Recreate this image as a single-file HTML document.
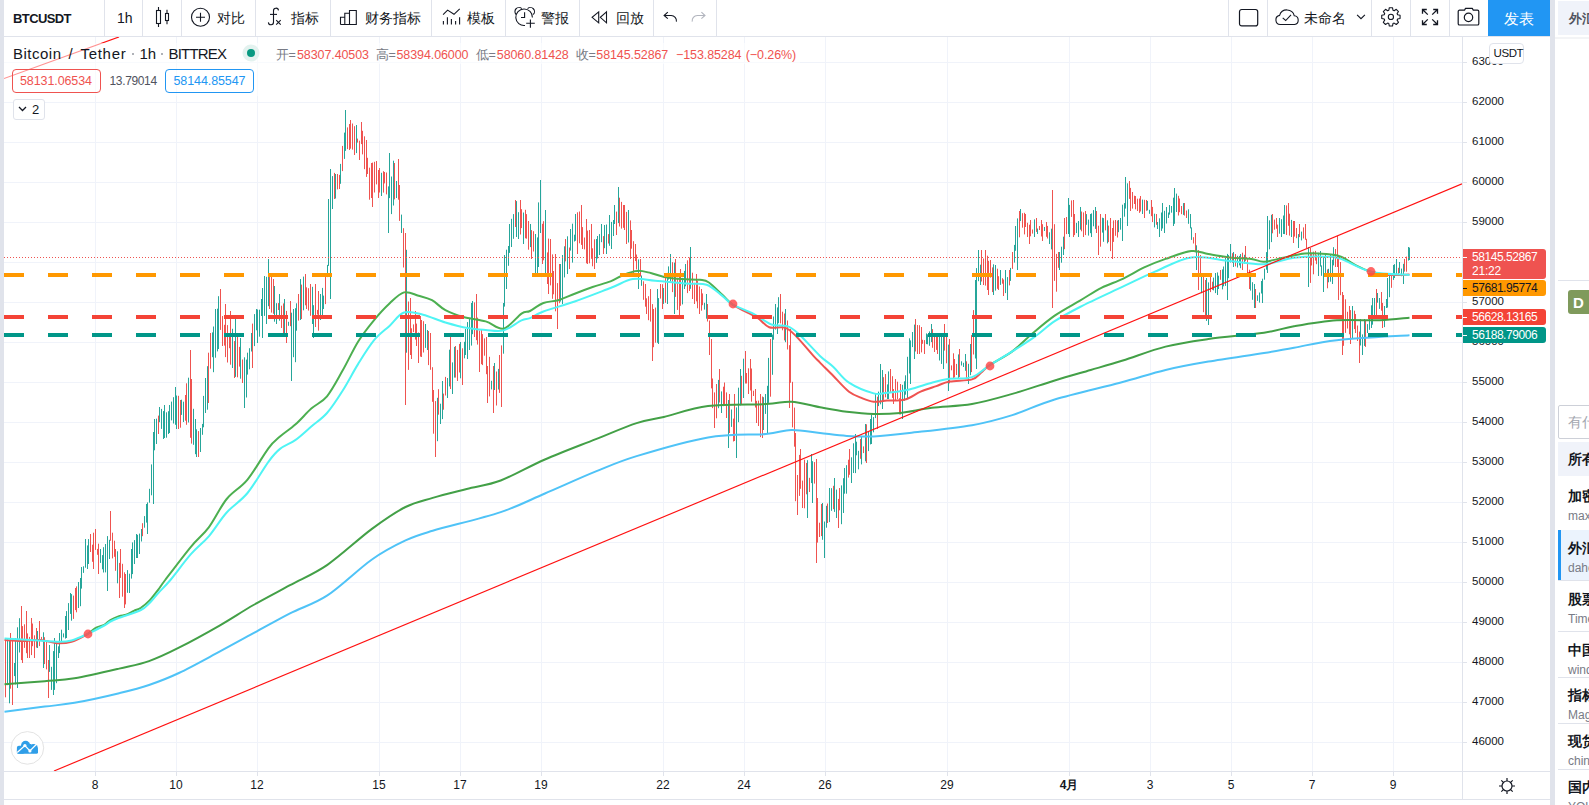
<!DOCTYPE html>
<html><head><meta charset="utf-8"><title>BTCUSDT</title>
<style>
*{margin:0;padding:0;box-sizing:border-box}
html,body{width:1589px;height:805px;overflow:hidden;background:#fff;font-family:"Liberation Sans",sans-serif;color:#131722}
.abs{position:absolute}
.t{white-space:nowrap}
</style></head><body>
<svg class="abs" style="left:0;top:0" width="1589" height="805" shape-rendering="auto"><defs><clipPath id="chartclip"><rect x="4" y="37" width="1458" height="734"/></clipPath></defs><g clip-path="url(#chartclip)"><rect x="4" y="62" width="1458" height="1" fill="#f0f3fa"/><rect x="4" y="102" width="1458" height="1" fill="#f0f3fa"/><rect x="4" y="142" width="1458" height="1" fill="#f0f3fa"/><rect x="4" y="182" width="1458" height="1" fill="#f0f3fa"/><rect x="4" y="222" width="1458" height="1" fill="#f0f3fa"/><rect x="4" y="262" width="1458" height="1" fill="#f0f3fa"/><rect x="4" y="302" width="1458" height="1" fill="#f0f3fa"/><rect x="4" y="342" width="1458" height="1" fill="#f0f3fa"/><rect x="4" y="382" width="1458" height="1" fill="#f0f3fa"/><rect x="4" y="422" width="1458" height="1" fill="#f0f3fa"/><rect x="4" y="462" width="1458" height="1" fill="#f0f3fa"/><rect x="4" y="502" width="1458" height="1" fill="#f0f3fa"/><rect x="4" y="542" width="1458" height="1" fill="#f0f3fa"/><rect x="4" y="582" width="1458" height="1" fill="#f0f3fa"/><rect x="4" y="622" width="1458" height="1" fill="#f0f3fa"/><rect x="4" y="662" width="1458" height="1" fill="#f0f3fa"/><rect x="4" y="702" width="1458" height="1" fill="#f0f3fa"/><rect x="4" y="742" width="1458" height="1" fill="#f0f3fa"/><rect x="95" y="37" width="1" height="734" fill="#f0f3fa"/><rect x="176" y="37" width="1" height="734" fill="#f0f3fa"/><rect x="257" y="37" width="1" height="734" fill="#f0f3fa"/><rect x="379" y="37" width="1" height="734" fill="#f0f3fa"/><rect x="460" y="37" width="1" height="734" fill="#f0f3fa"/><rect x="541" y="37" width="1" height="734" fill="#f0f3fa"/><rect x="663" y="37" width="1" height="734" fill="#f0f3fa"/><rect x="744" y="37" width="1" height="734" fill="#f0f3fa"/><rect x="825" y="37" width="1" height="734" fill="#f0f3fa"/><rect x="947" y="37" width="1" height="734" fill="#f0f3fa"/><rect x="1069" y="37" width="1" height="734" fill="#f0f3fa"/><rect x="1150" y="37" width="1" height="734" fill="#f0f3fa"/><rect x="1231" y="37" width="1" height="734" fill="#f0f3fa"/><rect x="1312" y="37" width="1" height="734" fill="#f0f3fa"/><rect x="1393" y="37" width="1" height="734" fill="#f0f3fa"/><path d="M7.5,638.4V685.2M9.5,640.3V703.3M14.5,663.0V676.1M15.5,638.0V684.4M17.5,627.3V688.0M19.5,618.2V652.5M37.5,631.0V648.0M43.5,632.3V668.0M49.5,645.0V671.9M51.5,666.8V689.9M53.5,651.1V695.0M54.5,638.0V689.9M56.5,641.1V683.2M58.5,646.3V658.0M59.5,633.0V653.1M61.5,629.7V642.4M63.5,633.4V637.4M65.5,616.0V638.6M66.5,611.1V638.0M68.5,603.1V630.0M70.5,593.0V613.9M71.5,594.1V620.7M78.5,582.0V608.0M80.5,578.0V606.2M81.5,567.0V588.6M83.5,566.3V572.9M85.5,539.0V567.7M87.5,545.4V569.0M88.5,539.1V564.0M100.5,549.0V562.9M102.5,555.1V569.3M103.5,547.2V572.5M105.5,544.0V572.4M107.5,536.1V591.0M109.5,539.8V559.0M117.5,551.3V583.3M127.5,570.1V592.8M129.5,573.7V593.0M131.5,549.0V578.6M132.5,542.4V574.1M134.5,540.1V564.0M136.5,534.0V558.0M137.5,534.8V558.0M139.5,533.6V554.0M141.5,529.0V541.5M144.5,516.1V527.7M146.5,504.0V522.6M147.5,502.4V534.0M149.5,488.8V502.7M151.5,464.4V495.3M153.5,432.0V504.0M154.5,419.0V450.3M156.5,418.7V444.0M159.5,407.0V422.2M161.5,408.9V428.9M163.5,411.1V439.0M164.5,405.0V438.0M166.5,412.3V437.7M168.5,411.2V434.0M169.5,405.0V433.0M171.5,401.6V420.4M173.5,397.2V423.5M175.5,387.0V424.8M176.5,395.5V429.0M181.5,399.7V414.9M183.5,401.7V422.0M188.5,377.7V422.5M193.5,408.8V444.8M195.5,419.0V454.2M196.5,429.3V457.0M200.5,428.0V452.0M202.5,423.9V434.8M203.5,395.9V427.3M205.5,378.0V413.0M207.5,366.2V409.7M212.5,332.4V357.2M213.5,326.5V372.2M215.5,309.0V357.7M217.5,308.7V351.4M218.5,296.2V349.0M232.5,328.8V368.0M235.5,319.0V376.9M240.5,338.0V378.7M244.5,357.3V408.0M246.5,359.6V397.5M247.5,352.7V374.6M249.5,348.2V369.3M251.5,333.0V351.5M254.5,314.1V346.1M256.5,309.0V330.3M257.5,309.5V343.0M259.5,309.7V336.7M261.5,299.0V316.0M262.5,288.0V338.0M264.5,276.0V315.9M266.5,276.8V324.0M268.5,259.0V306.2M274.5,286.0V321.7M276.5,303.2V324.0M279.5,294.0V320.7M284.5,299.0V336.0M288.5,321.8V325.8M291.5,312.7V381.0M293.5,309.0V357.2M295.5,308.2V362.2M296.5,303.3V330.7M300.5,279.0V320.0M303.5,276.6V310.3M312.5,286.8V324.0M313.5,305.2V338.0M320.5,294.0V320.0M322.5,287.9V315.0M323.5,295.6V309.0M327.5,264.9V277.1M328.5,199.0V265.9M330.5,169.0V299.0M332.5,176.1V209.0M335.5,174.0V198.5M340.5,163.9V183.8M344.5,132.6V158.9M345.5,110.0V150.9M356.5,125.0V153.1M381.5,172.8V196.0M388.5,186.4V233.0M389.5,153.0V198.1M391.5,176.5V214.1M393.5,160.7V205.5M396.5,181.0V198.0M401.5,214.6V233.0M406.5,249.8V352.7M425.5,324.0V347.9M427.5,330.0V350.0M437.5,397.8V441.2M440.5,403.7V424.0M442.5,381.0V419.1M447.5,378.0V398.0M449.5,349.7V386.4M452.5,362.4V394.0M454.5,346.9V377.6M460.5,342.0V378.3M464.5,341.8V358.3M465.5,329.0V355.0M467.5,322.1V359.0M469.5,318.8V350.0M471.5,303.0V345.6M472.5,301.0V334.2M491.5,380.8V389.4M494.5,363.0V390.0M498.5,368.9V389.5M503.5,303.0V353.7M504.5,255.0V306.6M506.5,249.7V289.0M508.5,246.0V265.8M509.5,224.0V252.9M511.5,218.8V247.0M513.5,214.1V238.8M516.5,201.1V237.0M518.5,212.2V239.0M523.5,212.5V244.0M530.5,224.0V247.1M535.5,234.0V273.4M537.5,237.4V274.0M538.5,202.4V267.0M540.5,180.0V233.0M545.5,210.0V274.1M560.5,264.0V301.6M562.5,255.0V304.0M564.5,246.3V277.4M567.5,236.3V274.0M570.5,229.0V250.6M572.5,223.7V262.6M574.5,234.7V241.5M575.5,214.0V240.8M596.5,239.0V262.9M597.5,236.0V258.5M599.5,234.1V255.0M601.5,224.0V242.2M604.5,225.0V248.2M606.5,224.5V254.0M609.5,215.0V245.8M611.5,221.9V249.0M613.5,220.0V236.0M614.5,205.0V224.0M618.5,187.0V223.1M628.5,210.0V242.5M638.5,259.4V289.0M641.5,275.5V285.8M657.5,289.0V342.8M658.5,298.1V344.0M663.5,288.0V303.9M667.5,272.9V304.0M668.5,266.4V279.6M670.5,254.0V281.5M674.5,262.6V314.0M682.5,277.9V304.4M684.5,270.9V289.0M685.5,264.0V286.3M690.5,247.0V288.8M704.5,302.8V309.6M706.5,294.0V318.7M718.5,379.9V408.2M721.5,391.4V413.0M728.5,400.0V448.0M731.5,409.5V426.9M736.5,407.4V458.0M738.5,387.7V422.2M740.5,369.0V405.4M743.5,358.7V398.0M763.5,397.2V430.0M765.5,394.0V413.9M767.5,385.8V433.0M768.5,357.9V402.9M772.5,334.6V374.8M773.5,316.5V339.7M775.5,304.0V329.6M777.5,307.4V334.0M778.5,297.2V323.2M785.5,309.0V342.2M807.5,460.2V518.0M811.5,454.0V483.1M812.5,461.2V503.0M822.5,503.0V539.8M824.5,521.5V558.0M826.5,505.8V527.7M829.5,488.0V522.1M831.5,488.2V510.8M834.5,478.0V511.9M836.5,489.6V518.0M841.5,485.4V524.2M843.5,478.2V513.0M844.5,468.0V493.7M846.5,465.2V493.7M851.5,457.3V483.0M853.5,443.3V473.0M855.5,434.0V473.1M856.5,441.7V455.3M858.5,450.8V469.3M861.5,435.9V464.4M865.5,424.0V461.3M868.5,431.2V451.1M870.5,419.0V444.4M871.5,414.7V444.0M873.5,417.1V432.3M875.5,394.0V418.1M878.5,391.6V406.1M880.5,364.0V404.3M882.5,370.0V409.0M887.5,384.4V399.0M888.5,371.4V399.0M902.5,384.8V419.0M904.5,381.3V400.8M905.5,375.3V394.7M907.5,356.8V399.0M909.5,338.3V373.5M910.5,340.4V384.0M912.5,332.0V347.1M914.5,324.6V359.0M926.5,333.4V344.1M927.5,334.3V344.3M929.5,331.4V345.8M931.5,324.0V342.1M939.5,334.6V360.5M941.5,334.0V363.9M943.5,333.3V369.0M948.5,344.6V391.0M958.5,354.4V379.0M961.5,361.3V365.5M963.5,362.8V367.0M965.5,354.0V370.8M968.5,363.8V384.0M970.5,344.0V375.2M975.5,280.0V358.5M976.5,268.1V369.0M978.5,250.0V281.2M980.5,264.7V285.0M993.5,264.3V295.0M995.5,265.0V290.6M1000.5,270.0V284.9M1005.5,270.0V293.1M1007.5,277.1V300.0M1010.5,267.9V280.9M1014.5,244.9V262.6M1015.5,226.0V250.8M1017.5,218.4V270.0M1020.5,209.0V221.1M1034.5,219.4V237.0M1037.5,228.5V234.0M1044.5,227.0V231.0M1049.5,232.3V244.0M1051.5,228.7V249.4M1059.5,252.0V270.0M1061.5,246.7V262.7M1063.5,236.7V255.0M1068.5,198.0V234.0M1069.5,204.9V237.0M1076.5,222.9V233.1M1078.5,221.0V237.0M1080.5,207.0V229.7M1086.5,214.1V224.8M1088.5,219.6V235.6M1090.5,214.0V233.2M1091.5,213.4V237.0M1093.5,210.1V226.3M1095.5,207.0V228.9M1102.5,217.7V232.6M1103.5,218.1V241.8M1107.5,220.3V243.4M1118.5,220.0V232.2M1120.5,218.0V229.7M1122.5,204.7V241.0M1124.5,203.1V216.7M1125.5,177.0V208.6M1127.5,183.3V226.0M1142.5,199.6V214.0M1147.5,200.9V210.4M1149.5,209.8V213.8M1154.5,213.7V227.4M1157.5,222.0V229.0M1159.5,218.3V237.0M1161.5,212.5V230.9M1162.5,203.0V228.5M1164.5,210.8V233.0M1166.5,207.0V223.5M1168.5,212.5V218.0M1169.5,205.0V214.6M1171.5,206.0V212.7M1173.5,197.7V226.0M1174.5,188.0V223.8M1176.5,193.6V212.0M1183.5,203.1V214.9M1188.5,209.3V223.8M1190.5,214.0V228.4M1191.5,227.4V239.9M1196.5,245.3V270.0M1201.5,275.2V293.2M1206.5,278.0V320.9M1208.5,282.4V325.0M1213.5,277.6V290.4M1215.5,273.0V293.1M1217.5,272.4V295.0M1218.5,275.7V289.0M1222.5,269.4V289.4M1223.5,266.5V286.3M1225.5,257.0V285.9M1227.5,253.9V300.0M1228.5,255.1V278.2M1230.5,244.0V262.5M1233.5,252.0V267.0M1237.5,255.8V267.5M1239.5,255.9V265.4M1240.5,254.0V268.2M1244.5,254.8V263.6M1250.5,276.0V290.6M1252.5,282.2V299.8M1254.5,284.0V308.0M1257.5,295.3V300.9M1259.5,292.5V302.6M1261.5,281.0V293.5M1262.5,278.7V303.0M1264.5,268.7V279.7M1266.5,252.1V269.7M1267.5,216.0V273.0M1269.5,220.3V249.3M1271.5,214.8V242.1M1279.5,218.0V233.7M1281.5,219.2V237.0M1283.5,215.5V234.0M1284.5,205.0V234.1M1291.5,219.9V237.0M1298.5,234.1V248.0M1301.5,231.6V240.4M1308.5,247.0V287.0M1318.5,252.8V276.0M1320.5,251.0V266.6M1321.5,265.4V275.8M1323.5,256.7V292.0M1325.5,254.0V276.9M1328.5,268.8V282.3M1330.5,254.0V281.7M1332.5,259.8V284.0M1333.5,247.2V265.4M1352.5,306.0V338.0M1360.5,319.0V345.5M1362.5,334.4V355.0M1364.5,319.0V345.9M1367.5,324.1V333.0M1369.5,317.0V329.8M1371.5,305.3V328.0M1372.5,298.0V324.7M1374.5,298.0V317.4M1377.5,293.0V302.7M1379.5,298.0V308.9M1384.5,306.0V327.1M1386.5,299.0V308.0M1387.5,278.0V307.6M1389.5,275.4V297.2M1393.5,265.0V279.9M1394.5,264.2V278.0M1396.5,259.0V275.0M1399.5,262.0V273.0M1401.5,268.6V276.2M1403.5,263.8V284.0M1408.5,247.0V260.6M1409.5,247.6V260.0" stroke="#26a69a" stroke-width="1" fill="none"/><path d="M5.5,638.0V697.3M10.5,633.0V688.7M12.5,639.0V705.0M21.5,606.0V660.1M22.5,626.1V663.0M24.5,624.3V647.9M26.5,611.0V653.2M27.5,633.4V658.0M29.5,636.9V658.0M31.5,618.0V655.1M32.5,623.5V646.2M34.5,635.3V658.0M36.5,628.0V647.6M39.5,621.0V646.1M41.5,636.9V640.9M44.5,637.2V664.1M46.5,641.5V669.4M48.5,660.0V698.0M73.5,595.6V618.9M75.5,588.0V610.1M76.5,586.4V612.3M90.5,534.0V552.0M92.5,544.7V561.8M93.5,532.7V569.0M95.5,529.0V549.9M97.5,548.9V554.8M98.5,543.7V574.0M110.5,511.0V540.8M112.5,532.7V558.4M114.5,540.7V556.8M115.5,549.0V570.8M119.5,562.9V598.0M120.5,549.0V577.9M122.5,563.8V596.7M124.5,572.3V608.0M125.5,574.0V604.4M142.5,523.2V536.2M158.5,415.6V434.0M178.5,395.8V429.0M180.5,400.0V427.7M185.5,395.0V420.7M186.5,383.3V424.8M190.5,350.0V437.8M191.5,379.0V443.6M198.5,431.1V457.0M208.5,352.7V403.0M210.5,333.0V368.7M220.5,289.0V329.9M222.5,316.0V346.0M224.5,324.8V345.6M225.5,304.0V357.1M227.5,325.1V362.5M229.5,334.5V348.2M230.5,311.0V364.7M234.5,341.1V378.0M237.5,336.6V377.3M239.5,346.9V366.6M242.5,359.5V383.0M252.5,323.6V368.0M269.5,273.3V309.0M271.5,274.2V312.6M273.5,279.0V313.8M278.5,303.1V310.0M281.5,305.7V328.0M283.5,303.4V334.1M286.5,310.9V343.0M290.5,301.0V326.2M298.5,294.0V320.6M301.5,284.6V319.0M305.5,274.0V305.3M306.5,287.3V309.0M308.5,288.2V310.6M310.5,284.0V315.8M315.5,284.0V327.0M317.5,309.9V314.6M318.5,291.0V330.7M325.5,276.0V304.1M334.5,172.9V199.0M337.5,174.0V189.4M339.5,174.9V189.0M342.5,145.9V171.1M347.5,127.4V149.1M349.5,124.0V150.0M350.5,120.0V148.7M352.5,123.5V149.6M354.5,126.2V155.0M357.5,138.6V142.6M359.5,140.7V160.0M361.5,122.0V144.1M362.5,130.8V154.4M364.5,136.3V169.2M366.5,140.0V176.9M367.5,157.8V174.0M369.5,167.7V199.7M371.5,163.0V198.0M372.5,162.6V207.0M374.5,161.8V192.5M376.5,161.0V184.4M378.5,170.0V198.0M379.5,168.0V192.5M383.5,171.2V192.6M384.5,172.0V183.4M386.5,172.5V194.4M394.5,163.0V199.4M398.5,159.0V199.7M399.5,185.0V220.9M403.5,228.2V267.5M405.5,233.0V405.0M408.5,301.5V369.9M410.5,298.0V355.0M411.5,328.3V359.0M413.5,324.4V332.1M415.5,311.0V339.6M416.5,323.6V346.0M418.5,332.5V363.0M420.5,316.0V356.6M421.5,320.0V357.0M423.5,321.2V352.5M428.5,331.0V365.1M430.5,333.0V369.8M432.5,367.2V401.8M433.5,390.0V433.7M435.5,401.1V457.0M438.5,389.2V414.7M443.5,393.6V409.7M445.5,376.9V395.5M450.5,337.0V389.0M455.5,346.0V377.6M457.5,349.9V381.0M459.5,343.9V372.5M462.5,348.3V385.0M474.5,302.4V337.0M476.5,294.0V340.2M477.5,317.6V344.6M479.5,330.5V372.0M481.5,329.0V364.2M482.5,334.1V365.1M484.5,338.4V355.7M486.5,337.0V374.2M487.5,366.0V403.0M489.5,356.8V396.4M493.5,366.0V413.0M496.5,371.5V405.5M499.5,355.0V392.9M501.5,345.4V407.0M515.5,200.0V227.0M520.5,200.0V234.5M521.5,209.2V228.1M525.5,209.8V238.3M526.5,214.1V238.7M528.5,221.0V249.7M531.5,230.1V259.0M533.5,231.2V251.5M542.5,223.8V264.0M543.5,221.2V260.3M547.5,252.4V284.0M548.5,238.6V294.0M550.5,239.0V285.4M552.5,254.4V298.8M553.5,271.0V294.3M555.5,254.0V311.3M557.5,283.1V329.0M559.5,264.0V303.2M565.5,239.0V261.4M569.5,247.5V269.0M577.5,212.3V254.0M579.5,211.5V243.3M581.5,205.0V244.9M582.5,227.1V249.0M584.5,237.5V249.4M586.5,219.0V263.3M587.5,230.6V264.0M589.5,230.0V263.3M591.5,224.0V258.8M592.5,248.3V266.3M594.5,239.3V269.0M603.5,236.1V254.0M608.5,234.1V243.5M616.5,211.6V235.0M619.5,197.7V226.5M621.5,201.9V228.6M623.5,205.0V227.8M624.5,205.0V230.0M626.5,211.9V244.0M630.5,220.4V259.0M631.5,230.0V248.7M633.5,241.2V274.0M635.5,244.0V261.1M636.5,254.5V269.4M640.5,259.0V276.5M643.5,281.3V299.8M645.5,284.0V306.7M646.5,298.3V314.0M648.5,296.2V320.2M650.5,289.0V321.6M652.5,304.1V361.0M653.5,309.0V347.2M655.5,307.6V342.7M660.5,284.0V298.6M662.5,284.2V309.0M665.5,274.0V302.8M672.5,262.2V292.1M675.5,259.0V296.9M677.5,277.8V309.9M679.5,275.3V319.0M680.5,269.0V305.8M687.5,260.3V293.1M689.5,257.5V291.0M692.5,272.7V299.0M694.5,282.8V304.0M696.5,274.0V301.4M697.5,280.9V308.3M699.5,286.5V314.0M701.5,289.0V310.7M702.5,293.4V305.2M707.5,304.0V321.5M709.5,320.5V355.0M711.5,339.0V388.4M712.5,378.5V408.1M714.5,392.4V428.0M716.5,384.0V418.3M719.5,369.0V402.5M723.5,386.7V406.2M724.5,382.5V404.6M726.5,392.4V418.0M729.5,394.0V433.0M733.5,418.6V441.5M734.5,394.0V441.0M741.5,375.8V404.5M745.5,351.0V383.5M746.5,373.0V383.5M748.5,368.3V394.0M750.5,359.0V390.5M751.5,368.5V401.7M753.5,390.7V396.0M755.5,389.0V407.5M756.5,400.8V423.0M758.5,400.6V426.0M760.5,394.0V437.1M762.5,396.5V438.0M770.5,339.0V396.7M780.5,294.0V323.4M782.5,311.7V330.3M784.5,313.5V340.4M787.5,320.5V349.5M789.5,345.2V408.0M790.5,329.0V382.8M792.5,381.8V427.4M794.5,407.6V446.7M795.5,433.0V501.2M797.5,475.0V515.0M799.5,454.9V495.9M800.5,449.0V488.8M802.5,480.6V508.0M804.5,459.7V508.3M806.5,463.0V494.3M809.5,477.8V492.0M814.5,462.1V483.6M816.5,459.0V563.0M817.5,498.0V542.6M819.5,522.7V537.0M821.5,504.0V536.1M827.5,503.5V523.0M833.5,485.8V509.2M838.5,498.9V528.0M839.5,488.0V510.3M848.5,459.7V477.6M849.5,449.0V474.8M860.5,439.0V458.8M863.5,446.4V453.1M866.5,424.3V463.0M877.5,396.7V429.0M883.5,377.2V399.9M885.5,374.0V397.4M890.5,369.0V391.9M892.5,376.2V397.9M893.5,389.1V404.0M895.5,379.0V400.8M897.5,381.7V399.1M899.5,398.2V414.4M900.5,384.0V414.5M915.5,319.0V351.5M917.5,325.0V354.0M919.5,325.2V354.0M921.5,327.0V352.4M922.5,339.8V343.8M924.5,340.1V354.0M932.5,329.1V347.8M934.5,334.1V352.0M936.5,334.0V349.9M937.5,335.3V354.0M944.5,324.0V350.6M946.5,335.7V363.3M949.5,339.0V383.4M951.5,365.4V370.3M953.5,353.3V379.0M954.5,359.0V377.5M956.5,363.9V375.0M959.5,349.0V377.0M966.5,361.3V379.0M971.5,335.1V372.1M973.5,310.1V354.5M981.5,250.0V281.5M983.5,258.5V285.0M985.5,250.0V285.6M987.5,255.7V290.0M988.5,260.8V295.0M990.5,260.0V277.6M992.5,267.4V292.1M997.5,268.7V288.8M998.5,276.2V290.0M1002.5,278.2V283.7M1003.5,279.5V296.0M1009.5,270.0V285.4M1012.5,252.0V268.9M1019.5,211.0V237.3M1022.5,213.2V227.7M1024.5,212.8V234.4M1025.5,214.0V227.0M1027.5,222.8V237.0M1029.5,224.7V244.0M1030.5,220.0V236.3M1032.5,229.5V233.6M1036.5,218.0V231.9M1039.5,226.0V230.0M1041.5,220.0V236.5M1042.5,224.2V241.0M1046.5,222.0V236.8M1047.5,225.9V238.5M1052.5,190.0V308.0M1054.5,224.2V280.9M1056.5,253.9V291.7M1058.5,252.0V267.8M1064.5,218.0V249.2M1066.5,217.0V234.1M1071.5,200.4V216.9M1073.5,200.0V237.0M1074.5,214.0V235.1M1081.5,211.5V231.3M1083.5,212.4V237.0M1085.5,211.0V235.1M1096.5,211.0V233.0M1098.5,225.7V255.0M1100.5,214.0V246.7M1105.5,214.0V230.4M1108.5,225.6V242.1M1110.5,218.0V251.1M1112.5,228.0V259.0M1113.5,220.4V241.9M1115.5,220.0V235.8M1117.5,220.5V237.5M1129.5,181.0V198.9M1130.5,187.9V211.0M1132.5,192.0V208.6M1134.5,195.7V204.0M1135.5,196.0V209.3M1137.5,198.7V211.0M1139.5,198.5V212.9M1140.5,196.0V211.5M1144.5,199.8V218.0M1146.5,200.0V210.8M1151.5,200.0V216.2M1152.5,206.9V222.0M1156.5,214.0V224.8M1178.5,195.8V215.5M1179.5,198.5V212.2M1181.5,206.0V214.2M1184.5,203.0V215.6M1186.5,210.5V218.0M1193.5,237.2V243.5M1195.5,233.0V252.3M1198.5,250.1V290.0M1200.5,255.0V276.2M1203.5,273.0V312.2M1205.5,280.0V319.0M1210.5,276.0V292.1M1212.5,281.7V289.9M1220.5,270.0V279.8M1232.5,253.2V262.9M1235.5,254.0V266.4M1242.5,252.7V270.0M1245.5,246.0V261.2M1247.5,259.2V273.0M1249.5,269.7V289.0M1255.5,289.0V308.0M1272.5,214.0V233.3M1274.5,219.6V229.7M1276.5,218.0V228.7M1277.5,224.6V237.0M1286.5,205.4V235.0M1288.5,203.0V225.8M1289.5,213.7V235.6M1293.5,221.0V243.0M1294.5,221.0V236.6M1296.5,228.0V238.2M1299.5,224.0V237.1M1303.5,227.4V238.5M1305.5,224.0V239.8M1306.5,238.8V248.0M1310.5,248.0V282.9M1311.5,254.1V265.5M1313.5,251.6V274.3M1315.5,250.9V260.6M1316.5,255.1V264.2M1327.5,269.4V288.3M1335.5,249.0V267.0M1337.5,236.0V267.0M1338.5,255.2V300.0M1340.5,262.0V295.2M1342.5,292.0V355.0M1343.5,295.0V345.8M1345.5,299.3V332.9M1347.5,311.8V328.5M1349.5,306.0V334.3M1350.5,310.1V344.0M1354.5,310.7V329.1M1355.5,314.0V333.0M1357.5,325.5V341.0M1359.5,331.6V363.0M1365.5,320.2V346.9M1376.5,289.0V317.7M1381.5,292.0V310.7M1382.5,302.9V328.0M1391.5,276.0V287.8M1398.5,267.8V275.8M1404.5,259.0V271.6M1406.5,256.6V271.7" stroke="#ef5350" stroke-width="1" fill="none"/><path d="M4.5,711.8 C11.2,710.9 33.0,708.1 44.7,706.6 C56.4,705.1 62.1,705.0 74.5,702.8 C86.9,700.6 106.8,696.2 119.2,693.2 C131.6,690.2 139.1,688.4 149.0,685.0 C158.9,681.6 167.1,678.6 178.9,673.0 C190.7,667.4 207.6,658.0 220.0,651.4 C232.4,644.8 241.8,639.5 253.5,633.2 C265.2,626.9 277.7,619.7 290.0,613.4 C302.3,607.1 313.8,604.3 327.4,595.4 C341.0,586.5 358.6,568.9 371.6,559.7 C384.6,550.5 395.3,545.2 405.5,540.4 C415.7,535.6 416.8,535.5 432.7,530.8 C448.6,526.1 482.0,518.3 500.7,512.1 C519.4,505.9 529.0,500.3 544.9,493.5 C560.8,486.7 580.6,477.6 595.9,471.4 C611.2,465.2 617.9,461.8 636.6,456.1 C655.3,450.4 686.5,441.1 708.0,437.4 C729.5,433.7 751.9,435.2 765.8,434.0 C779.7,432.8 782.3,430.1 791.3,429.9 C800.3,429.7 810.8,432.0 820.0,433.0 C829.2,434.0 837.8,435.3 846.8,435.9 C855.8,436.5 863.3,436.9 873.7,436.4 C884.1,435.9 893.0,434.9 909.4,433.0 C925.8,431.1 954.9,428.2 972.0,425.2 C989.1,422.2 998.5,419.4 1012.3,415.1 C1026.1,410.8 1036.8,404.9 1054.7,399.5 C1072.7,394.1 1101.5,387.6 1120.0,382.7 C1138.5,377.8 1150.9,373.5 1165.6,370.0 C1180.3,366.5 1192.0,364.4 1208.4,361.6 C1224.8,358.8 1249.7,355.3 1264.0,353.0 C1278.3,350.7 1281.9,349.8 1294.0,347.7 C1306.1,345.6 1317.5,342.3 1336.8,340.2 C1356.0,338.1 1397.4,336.1 1409.5,335.3" stroke="#4fc3f7" stroke-width="2" fill="none"/><path d="M4.5,684.2 C11.2,683.7 33.0,682.2 44.7,681.2 C56.4,680.2 62.1,680.4 74.5,678.3 C86.9,676.2 106.8,671.5 119.2,668.6 C131.6,665.7 139.1,664.6 149.0,661.1 C158.9,657.6 167.1,653.7 178.9,647.7 C190.7,641.7 207.6,632.4 220.0,625.3 C232.4,618.2 241.8,611.7 253.5,605.0 C265.2,598.3 277.7,591.9 290.0,585.2 C302.3,578.5 313.8,574.1 327.4,564.8 C341.0,555.4 358.6,538.7 371.6,529.1 C384.6,519.5 395.3,512.2 405.5,507.0 C415.7,501.8 422.5,500.9 432.7,497.9 C442.9,494.9 455.4,491.9 466.7,489.0 C478.0,486.1 487.7,485.4 500.7,480.5 C513.7,475.6 529.0,466.4 544.9,459.5 C560.8,452.6 580.6,445.2 595.9,439.1 C611.2,433.0 625.3,426.8 636.6,423.1 C647.9,419.4 651.9,419.8 663.8,417.0 C675.7,414.2 691.0,408.2 708.0,406.1 C725.0,404.0 751.9,404.8 765.8,404.1 C779.7,403.4 782.3,401.2 791.3,401.7 C800.3,402.2 810.8,405.6 820.0,407.3 C829.2,409.0 837.8,410.7 846.8,411.8 C855.8,412.9 864.8,413.8 873.7,414.0 C882.7,414.2 890.8,413.9 900.5,412.9 C910.2,411.9 919.9,409.3 931.8,407.8 C943.7,406.3 958.6,406.3 972.0,404.0 C985.4,401.7 998.5,397.8 1012.3,393.9 C1026.1,390.0 1041.6,384.5 1054.7,380.5 C1067.8,376.5 1079.4,373.3 1090.7,370.0 C1102.0,366.7 1110.3,364.4 1122.8,360.5 C1135.3,356.6 1151.3,350.2 1165.6,346.6 C1179.9,343.0 1192.0,341.4 1208.4,339.1 C1224.8,336.8 1249.7,334.8 1264.0,332.7 C1278.3,330.6 1281.9,328.4 1294.0,326.3 C1306.1,324.2 1322.5,321.3 1336.8,320.3 C1351.1,319.3 1367.5,320.7 1379.6,320.3 C1391.7,319.9 1404.5,318.1 1409.5,317.7" stroke="#43a047" stroke-width="2" fill="none"/><clipPath id="cr"><rect x="0" y="0" width="88" height="805"/><rect x="733" y="0" width="257" height="805"/><rect x="1371" y="0" width="100" height="805"/></clipPath><clipPath id="cg"><rect x="88" y="0" width="645" height="805"/><rect x="990" y="0" width="381" height="805"/></clipPath><path d="M4.5,640.0 C7.5,640.2 16.4,641.0 22.4,641.0 C28.3,641.0 34.5,639.6 40.2,640.0 C45.9,640.4 51.4,642.9 56.6,643.2 C61.8,643.5 66.2,643.3 71.5,641.7 C76.8,640.1 84.4,635.8 88.4,633.5 C92.4,631.2 93.1,629.2 95.7,627.8 C98.3,626.3 101.8,626.1 104.3,624.8 C106.8,623.5 107.9,621.5 110.4,620.0 C112.9,618.5 116.5,617.0 119.1,616.1 C121.7,615.2 123.6,615.7 126.1,614.8 C128.6,613.9 131.4,612.1 133.9,610.9 C136.4,609.7 138.3,609.5 140.9,607.8 C143.5,606.0 146.7,603.4 149.6,600.4 C152.5,597.4 155.7,593.0 158.3,589.6 C160.9,586.2 159.8,587.1 165.2,580.0 C170.6,572.9 183.6,555.6 190.9,546.8 C198.2,538.0 202.8,535.4 208.8,527.4 C214.8,519.4 220.2,507.0 226.7,499.0 C233.1,491.0 240.6,488.1 247.5,479.6 C254.4,471.2 263.0,455.5 268.4,448.3 C273.8,441.1 275.5,440.6 280.0,436.6 C284.5,432.6 290.4,429.0 295.6,424.3 C300.8,419.6 306.1,413.3 311.3,408.6 C316.5,403.9 321.8,402.6 327.0,396.3 C332.2,390.0 337.4,379.7 342.6,370.6 C347.8,361.5 353.0,349.9 358.2,341.5 C363.4,333.1 368.7,326.6 373.9,320.3 C379.1,314.0 384.5,308.1 389.5,303.5 C394.5,298.9 399.1,293.7 404.0,292.4 C408.9,291.1 413.9,294.4 418.6,295.7 C423.3,297.0 427.5,297.8 432.0,300.2 C436.5,302.6 440.2,307.4 445.4,310.2 C450.6,313.0 456.6,315.1 463.3,317.0 C470.0,318.9 479.0,319.5 485.7,321.4 C492.4,323.3 497.6,329.9 503.6,328.6 C509.6,327.3 517.1,316.5 521.5,313.6 C525.9,310.7 526.4,312.8 530.0,311.0 C533.6,309.2 538.6,304.8 543.4,303.0 C548.2,301.2 553.8,301.6 559.0,300.0 C564.2,298.4 569.1,295.9 574.7,293.7 C580.3,291.5 586.6,289.1 592.6,287.0 C598.6,284.9 605.3,283.4 610.5,281.4 C615.7,279.3 619.4,276.4 623.9,274.7 C628.4,272.9 632.8,271.2 637.3,270.9 C641.8,270.6 646.2,272.0 650.7,273.0 C655.2,274.0 658.9,275.9 664.1,276.9 C669.3,277.9 676.0,278.6 682.0,279.1 C688.0,279.6 695.4,279.2 699.9,279.8 C704.4,280.4 705.2,280.0 708.9,282.5 C712.6,285.0 718.4,291.2 722.3,294.8 C726.2,298.4 728.6,301.7 732.3,304.4 C736.0,307.1 740.3,308.8 744.6,311.1 C748.9,313.4 753.9,315.5 758.0,318.2 C762.1,320.9 764.7,325.6 769.2,327.2 C773.7,328.8 780.4,326.1 784.9,327.6 C789.4,329.1 791.2,331.3 796.0,336.1 C800.8,340.9 809.9,351.9 813.9,356.3 C817.9,360.7 816.8,359.3 820.0,362.6 C823.2,365.9 828.6,371.1 833.4,376.0 C838.2,380.9 844.1,388.0 849.0,391.7 C853.9,395.4 858.4,396.7 862.5,398.4 C866.6,400.1 869.6,401.3 873.7,401.7 C877.8,402.1 881.8,401.0 887.0,400.6 C892.2,400.2 899.4,401.0 905.0,399.5 C910.6,398.0 915.4,393.9 920.6,391.7 C925.8,389.5 931.4,387.8 936.3,386.1 C941.1,384.4 943.8,382.7 949.7,381.6 C955.7,380.5 966.8,380.9 972.0,379.4 C977.2,377.9 978.1,375.0 981.0,372.7 C983.9,370.4 984.0,369.1 989.2,365.5 C994.4,361.9 1005.1,356.7 1012.3,351.4 C1019.5,346.1 1025.3,339.5 1032.4,333.5 C1039.5,327.5 1046.8,321.1 1054.7,315.6 C1062.6,310.1 1072.2,305.2 1080.0,300.6 C1087.8,296.0 1094.3,291.4 1101.4,287.8 C1108.5,284.2 1115.7,282.2 1122.8,278.8 C1129.9,275.4 1137.1,270.7 1144.2,267.4 C1151.3,264.1 1157.8,261.6 1165.6,258.9 C1173.4,256.2 1184.2,251.8 1191.3,251.0 C1198.4,250.2 1202.0,252.9 1208.4,254.0 C1214.8,255.1 1222.7,256.6 1229.8,257.4 C1236.9,258.2 1245.5,258.2 1251.2,258.9 C1256.9,259.6 1258.7,261.9 1264.0,261.7 C1269.3,261.5 1276.5,259.2 1283.3,257.8 C1290.1,256.4 1297.6,254.1 1304.7,253.5 C1311.8,252.9 1320.0,253.5 1326.1,254.0 C1332.1,254.5 1336.0,254.8 1341.0,256.7 C1346.0,258.6 1351.0,262.8 1356.0,265.3 C1361.0,267.8 1365.6,270.1 1371.0,271.7 C1376.4,273.3 1381.8,274.4 1388.2,274.9 C1394.6,275.4 1406.0,274.6 1409.5,274.5" stroke="#4caf50" stroke-width="2" fill="none" clip-path="url(#cg)"/><path d="M4.5,640.0 C7.5,640.2 16.4,641.0 22.4,641.0 C28.3,641.0 34.5,639.6 40.2,640.0 C45.9,640.4 51.4,642.9 56.6,643.2 C61.8,643.5 66.2,643.3 71.5,641.7 C76.8,640.1 84.4,635.8 88.4,633.5 C92.4,631.2 93.1,629.2 95.7,627.8 C98.3,626.3 101.8,626.1 104.3,624.8 C106.8,623.5 107.9,621.5 110.4,620.0 C112.9,618.5 116.5,617.0 119.1,616.1 C121.7,615.2 123.6,615.7 126.1,614.8 C128.6,613.9 131.4,612.1 133.9,610.9 C136.4,609.7 138.3,609.5 140.9,607.8 C143.5,606.0 146.7,603.4 149.6,600.4 C152.5,597.4 155.7,593.0 158.3,589.6 C160.9,586.2 159.8,587.1 165.2,580.0 C170.6,572.9 183.6,555.6 190.9,546.8 C198.2,538.0 202.8,535.4 208.8,527.4 C214.8,519.4 220.2,507.0 226.7,499.0 C233.1,491.0 240.6,488.1 247.5,479.6 C254.4,471.2 263.0,455.5 268.4,448.3 C273.8,441.1 275.5,440.6 280.0,436.6 C284.5,432.6 290.4,429.0 295.6,424.3 C300.8,419.6 306.1,413.3 311.3,408.6 C316.5,403.9 321.8,402.6 327.0,396.3 C332.2,390.0 337.4,379.7 342.6,370.6 C347.8,361.5 353.0,349.9 358.2,341.5 C363.4,333.1 368.7,326.6 373.9,320.3 C379.1,314.0 384.5,308.1 389.5,303.5 C394.5,298.9 399.1,293.7 404.0,292.4 C408.9,291.1 413.9,294.4 418.6,295.7 C423.3,297.0 427.5,297.8 432.0,300.2 C436.5,302.6 440.2,307.4 445.4,310.2 C450.6,313.0 456.6,315.1 463.3,317.0 C470.0,318.9 479.0,319.5 485.7,321.4 C492.4,323.3 497.6,329.9 503.6,328.6 C509.6,327.3 517.1,316.5 521.5,313.6 C525.9,310.7 526.4,312.8 530.0,311.0 C533.6,309.2 538.6,304.8 543.4,303.0 C548.2,301.2 553.8,301.6 559.0,300.0 C564.2,298.4 569.1,295.9 574.7,293.7 C580.3,291.5 586.6,289.1 592.6,287.0 C598.6,284.9 605.3,283.4 610.5,281.4 C615.7,279.3 619.4,276.4 623.9,274.7 C628.4,272.9 632.8,271.2 637.3,270.9 C641.8,270.6 646.2,272.0 650.7,273.0 C655.2,274.0 658.9,275.9 664.1,276.9 C669.3,277.9 676.0,278.6 682.0,279.1 C688.0,279.6 695.4,279.2 699.9,279.8 C704.4,280.4 705.2,280.0 708.9,282.5 C712.6,285.0 718.4,291.2 722.3,294.8 C726.2,298.4 728.6,301.7 732.3,304.4 C736.0,307.1 740.3,308.8 744.6,311.1 C748.9,313.4 753.9,315.5 758.0,318.2 C762.1,320.9 764.7,325.6 769.2,327.2 C773.7,328.8 780.4,326.1 784.9,327.6 C789.4,329.1 791.2,331.3 796.0,336.1 C800.8,340.9 809.9,351.9 813.9,356.3 C817.9,360.7 816.8,359.3 820.0,362.6 C823.2,365.9 828.6,371.1 833.4,376.0 C838.2,380.9 844.1,388.0 849.0,391.7 C853.9,395.4 858.4,396.7 862.5,398.4 C866.6,400.1 869.6,401.3 873.7,401.7 C877.8,402.1 881.8,401.0 887.0,400.6 C892.2,400.2 899.4,401.0 905.0,399.5 C910.6,398.0 915.4,393.9 920.6,391.7 C925.8,389.5 931.4,387.8 936.3,386.1 C941.1,384.4 943.8,382.7 949.7,381.6 C955.7,380.5 966.8,380.9 972.0,379.4 C977.2,377.9 978.1,375.0 981.0,372.7 C983.9,370.4 984.0,369.1 989.2,365.5 C994.4,361.9 1005.1,356.7 1012.3,351.4 C1019.5,346.1 1025.3,339.5 1032.4,333.5 C1039.5,327.5 1046.8,321.1 1054.7,315.6 C1062.6,310.1 1072.2,305.2 1080.0,300.6 C1087.8,296.0 1094.3,291.4 1101.4,287.8 C1108.5,284.2 1115.7,282.2 1122.8,278.8 C1129.9,275.4 1137.1,270.7 1144.2,267.4 C1151.3,264.1 1157.8,261.6 1165.6,258.9 C1173.4,256.2 1184.2,251.8 1191.3,251.0 C1198.4,250.2 1202.0,252.9 1208.4,254.0 C1214.8,255.1 1222.7,256.6 1229.8,257.4 C1236.9,258.2 1245.5,258.2 1251.2,258.9 C1256.9,259.6 1258.7,261.9 1264.0,261.7 C1269.3,261.5 1276.5,259.2 1283.3,257.8 C1290.1,256.4 1297.6,254.1 1304.7,253.5 C1311.8,252.9 1320.0,253.5 1326.1,254.0 C1332.1,254.5 1336.0,254.8 1341.0,256.7 C1346.0,258.6 1351.0,262.8 1356.0,265.3 C1361.0,267.8 1365.6,270.1 1371.0,271.7 C1376.4,273.3 1381.8,274.4 1388.2,274.9 C1394.6,275.4 1406.0,274.6 1409.5,274.5" stroke="#ef5350" stroke-width="2" fill="none" clip-path="url(#cr)"/><path d="M4.5,638.5 C7.5,638.7 13.7,639.0 22.4,639.5 C31.1,640.0 48.4,641.5 56.6,641.7 C64.8,641.9 66.2,641.9 71.5,640.5 C76.8,639.1 82.9,636.0 88.4,633.5 C93.9,631.0 100.6,627.5 104.3,625.5 C108.0,623.5 107.9,622.8 110.4,621.5 C112.9,620.2 114.0,619.7 119.1,617.8 C124.2,615.9 135.8,612.5 140.9,610.0 C146.0,607.5 146.7,605.8 149.6,603.0 C152.5,600.2 154.8,596.8 158.3,593.0 C161.8,589.2 165.0,586.5 170.4,580.0 C175.8,573.5 184.5,561.5 190.9,554.2 C197.3,546.9 202.8,543.2 208.8,536.3 C214.8,529.3 220.2,519.7 226.7,512.5 C233.1,505.3 240.6,501.4 247.5,493.0 C254.4,484.6 263.0,469.2 268.4,461.8 C273.8,454.4 275.5,452.5 280.0,448.9 C284.5,445.2 290.4,443.6 295.6,439.9 C300.8,436.2 306.1,431.0 311.3,426.5 C316.5,422.0 321.8,419.0 327.0,413.0 C332.2,407.0 337.4,398.9 342.6,390.7 C347.8,382.5 353.0,372.3 358.2,363.9 C363.4,355.5 368.7,346.7 373.9,340.4 C379.1,334.1 384.5,330.5 389.5,325.9 C394.5,321.2 398.4,314.4 404.0,312.5 C409.6,310.6 416.1,313.0 423.0,314.7 C429.9,316.4 437.9,320.3 445.4,322.5 C452.9,324.7 461.1,326.9 467.8,328.1 C474.5,329.4 479.7,329.6 485.7,330.0 C491.7,330.4 497.6,332.0 503.6,330.4 C509.6,328.8 517.1,322.3 521.5,320.3 C525.9,318.3 526.4,319.7 530.0,318.2 C533.6,316.7 535.9,314.3 543.4,311.5 C550.9,308.7 563.5,305.4 574.7,301.5 C585.9,297.6 600.8,291.7 610.5,288.0 C620.2,284.3 625.3,280.3 632.8,279.1 C640.2,277.9 646.2,279.9 655.2,280.7 C664.2,281.4 677.9,282.9 686.5,283.6 C695.1,284.3 700.6,282.6 706.6,284.7 C712.6,286.8 718.0,292.6 722.3,295.9 C726.6,299.2 727.1,301.4 732.3,304.4 C737.5,307.4 747.1,310.4 753.6,313.8 C760.1,317.2 765.8,322.4 771.4,324.5 C777.0,326.6 782.6,324.6 787.1,326.1 C791.6,327.6 792.8,328.5 798.3,333.5 C803.8,338.5 814.1,350.3 820.0,355.9 C825.9,361.5 828.6,362.5 833.4,367.0 C838.2,371.5 842.3,378.3 849.0,382.7 C855.7,387.1 867.4,391.7 873.7,393.4 C880.0,395.1 881.0,393.5 887.0,392.8 C893.0,392.1 901.9,391.1 909.4,389.4 C916.9,387.7 925.1,384.5 931.8,382.7 C938.5,380.9 943.0,379.6 949.7,378.7 C956.4,377.8 965.4,379.3 972.0,377.1 C978.6,374.9 982.5,369.8 989.2,365.5 C995.9,361.2 1004.7,356.2 1012.3,351.4 C1019.9,346.6 1027.5,341.9 1034.6,336.9 C1041.7,331.9 1047.1,326.2 1054.7,321.2 C1062.3,316.2 1068.7,312.8 1080.0,307.0 C1091.3,301.2 1110.3,292.6 1122.8,286.7 C1135.3,280.8 1143.5,276.6 1154.9,271.7 C1166.3,266.8 1178.8,259.2 1191.3,257.4 C1203.8,255.6 1217.7,259.9 1229.8,261.0 C1241.9,262.1 1253.3,264.7 1264.0,264.2 C1274.7,263.7 1283.7,259.1 1294.0,257.8 C1304.3,256.6 1318.3,256.5 1326.1,256.7 C1333.9,256.9 1333.5,256.4 1341.0,258.9 C1348.5,261.4 1359.6,269.0 1371.0,271.7 C1382.4,274.4 1403.1,274.4 1409.5,274.9" stroke="#4ff4f4" stroke-width="2" fill="none"/><line x1="54" y1="771" x2="1462" y2="183.9" stroke="#ff1010" stroke-width="1.15"/><line x1="4" y1="78.6" x2="119" y2="36.9" stroke="#ff1010" stroke-width="1.1"/><line x1="4" y1="275" x2="1462" y2="275" stroke="#ff9800" stroke-width="4" stroke-dasharray="20 24"/><line x1="4" y1="317" x2="1462" y2="317" stroke="#f44336" stroke-width="4" stroke-dasharray="20 24"/><line x1="4" y1="335" x2="1462" y2="335" stroke="#009688" stroke-width="4" stroke-dasharray="20 24"/><line x1="4" y1="257.5" x2="1462" y2="257.5" stroke="#ef5350" stroke-width="1" stroke-dasharray="1 2"/><circle cx="88" cy="634" r="4.4" fill="#ff4545" fill-opacity="0.82"/><circle cx="733" cy="304" r="4.4" fill="#ff4545" fill-opacity="0.82"/><circle cx="990" cy="366" r="4.4" fill="#ff4545" fill-opacity="0.82"/><circle cx="1371" cy="271.5" r="4.4" fill="#ff4545" fill-opacity="0.82"/></g><rect x="4" y="771" width="1546" height="1" fill="#e0e3eb"/><rect x="4" y="799" width="1546" height="1" fill="#e0e3eb"/><rect x="1462" y="37" width="1" height="763" fill="#e0e3eb"/><rect x="1463" y="62" width="4" height="1" fill="#e0e3eb"/><rect x="1463" y="102" width="4" height="1" fill="#e0e3eb"/><rect x="1463" y="142" width="4" height="1" fill="#e0e3eb"/><rect x="1463" y="182" width="4" height="1" fill="#e0e3eb"/><rect x="1463" y="222" width="4" height="1" fill="#e0e3eb"/><rect x="1463" y="262" width="4" height="1" fill="#e0e3eb"/><rect x="1463" y="302" width="4" height="1" fill="#e0e3eb"/><rect x="1463" y="342" width="4" height="1" fill="#e0e3eb"/><rect x="1463" y="382" width="4" height="1" fill="#e0e3eb"/><rect x="1463" y="422" width="4" height="1" fill="#e0e3eb"/><rect x="1463" y="462" width="4" height="1" fill="#e0e3eb"/><rect x="1463" y="502" width="4" height="1" fill="#e0e3eb"/><rect x="1463" y="542" width="4" height="1" fill="#e0e3eb"/><rect x="1463" y="582" width="4" height="1" fill="#e0e3eb"/><rect x="1463" y="622" width="4" height="1" fill="#e0e3eb"/><rect x="1463" y="662" width="4" height="1" fill="#e0e3eb"/><rect x="1463" y="702" width="4" height="1" fill="#e0e3eb"/><rect x="1463" y="742" width="4" height="1" fill="#e0e3eb"/><rect x="95" y="772" width="1" height="4" fill="#e0e3eb"/><rect x="176" y="772" width="1" height="4" fill="#e0e3eb"/><rect x="257" y="772" width="1" height="4" fill="#e0e3eb"/><rect x="379" y="772" width="1" height="4" fill="#e0e3eb"/><rect x="460" y="772" width="1" height="4" fill="#e0e3eb"/><rect x="541" y="772" width="1" height="4" fill="#e0e3eb"/><rect x="663" y="772" width="1" height="4" fill="#e0e3eb"/><rect x="744" y="772" width="1" height="4" fill="#e0e3eb"/><rect x="825" y="772" width="1" height="4" fill="#e0e3eb"/><rect x="947" y="772" width="1" height="4" fill="#e0e3eb"/><rect x="1069" y="772" width="1" height="4" fill="#e0e3eb"/><rect x="1150" y="772" width="1" height="4" fill="#e0e3eb"/><rect x="1231" y="772" width="1" height="4" fill="#e0e3eb"/><rect x="1312" y="772" width="1" height="4" fill="#e0e3eb"/><rect x="1393" y="772" width="1" height="4" fill="#e0e3eb"/></svg><div class="abs" style="left:0;top:0;width:4px;height:805px;background:#e0e3eb"></div><div class="abs" style="left:4px;top:36px;width:1546px;height:1px;background:#e0e3eb"></div><div class="abs" style="left:104px;top:0;width:1px;height:36px;background:#e0e3eb"></div><div class="abs" style="left:142px;top:0;width:1px;height:36px;background:#e0e3eb"></div><div class="abs" style="left:181px;top:0;width:1px;height:36px;background:#e0e3eb"></div><div class="abs" style="left:255px;top:0;width:1px;height:36px;background:#e0e3eb"></div><div class="abs" style="left:330px;top:0;width:1px;height:36px;background:#e0e3eb"></div><div class="abs" style="left:431px;top:0;width:1px;height:36px;background:#e0e3eb"></div><div class="abs" style="left:505px;top:0;width:1px;height:36px;background:#e0e3eb"></div><div class="abs" style="left:579px;top:0;width:1px;height:36px;background:#e0e3eb"></div><div class="abs" style="left:653px;top:0;width:1px;height:36px;background:#e0e3eb"></div><div class="abs" style="left:716px;top:0;width:1px;height:36px;background:#e0e3eb"></div><div class="abs" style="left:1228px;top:0;width:1px;height:36px;background:#e0e3eb"></div><div class="abs" style="left:1267px;top:0;width:1px;height:36px;background:#e0e3eb"></div><div class="abs" style="left:1371px;top:0;width:1px;height:36px;background:#e0e3eb"></div><div class="abs" style="left:1410px;top:0;width:1px;height:36px;background:#e0e3eb"></div><div class="abs" style="left:1449px;top:0;width:1px;height:36px;background:#e0e3eb"></div><div class="abs t" style="left:13px;top:11.5px;font-size:13px;line-height:13px;color:#131722;font-weight:bold;letter-spacing:-0.6px">BTCUSDT</div><div class="abs t" style="left:117px;top:11px;font-size:14px;line-height:14px;color:#131722;font-weight:normal;">1h</div><svg class="abs" style="left:150px;top:0px" width="26" height="36"><g fill="none" stroke="#131722" stroke-width="1.1"><rect x="6.5" y="10.5" width="4" height="13"/><path d="M8.5 7V10.5M8.5 23.5V27"/><rect x="15.5" y="13.5" width="3" height="7"/><path d="M17 9.7V13.5M17 20.5V24.2"/></g></svg><svg class="abs" style="left:190px;top:7px" width="22" height="22"><circle cx="10.5" cy="10.2" r="9" fill="none" stroke="#131722" stroke-width="1.1"/><path d="M10.5 5.7V14.7M6 10.2H15" stroke="#131722" stroke-width="1.1"/></svg><div class="abs t" style="left:216.5px;top:10.5px;font-size:14.3px;line-height:14.3px;color:#131722;font-weight:normal;">对比</div><svg class="abs" style="left:262px;top:4px" width="24" height="24"><g fill="none" stroke="#131722" stroke-width="1.1"><path d="M11.5 18V7A2.5 2.5 0 0 1 16.5 6.4"/><path d="M11.5 18A2.5 2.5 0 0 1 6.4 18.4"/><path d="M8 10.4H15"/><path d="M14.2 16.1L18.7 20.7M18.7 16.1L14.2 20.7"/></g></svg><div class="abs t" style="left:291px;top:10.5px;font-size:14.3px;line-height:14.3px;color:#131722;font-weight:normal;">指标</div><svg class="abs" style="left:338px;top:6px" width="22" height="22"><path d="M2.5 18.5V11.3H6.8V18.5M6.8 18.5V7.2H11.5V18.5M11.5 18.5V4.5H18.3V18.5H2.5" fill="none" stroke="#131722" stroke-width="1.1"/></svg><div class="abs t" style="left:364.5px;top:10.5px;font-size:14.3px;line-height:14.3px;color:#131722;font-weight:normal;">财务指标</div><svg class="abs" style="left:436px;top:4px" width="26" height="24"><g fill="none" stroke="#131722" stroke-width="1.1"><path d="M7.1 10.6L11.6 6.1L18 10.3L23.7 4.8"/><path d="M7.4 17V20.5M11.4 13.2V20.5M15.4 15V20.5M19.6 17V20.5M23.6 13.2V20.5"/></g></svg><div class="abs t" style="left:467px;top:10.5px;font-size:14.3px;line-height:14.3px;color:#131722;font-weight:normal;">模板</div><svg class="abs" style="left:510px;top:4px" width="28" height="26"><g fill="none" stroke="#131722" stroke-width="1.1"><path d="M15 21.5A8.3 8.3 0 1 1 22.4 13.5"/><path d="M6.2 10.5A3.4 3.4 0 0 1 11.8 4.6M17.6 4.6A3.4 3.4 0 0 1 23.2 10.5"/><path d="M14.6 8.3V13.5H11"/><path d="M20.4 15.4V23.7M16.2 19.3H24.8"/></g></svg><div class="abs t" style="left:541px;top:10.5px;font-size:14.3px;line-height:14.3px;color:#131722;font-weight:normal;">警报</div><svg class="abs" style="left:586px;top:4px" width="26" height="24"><g fill="none" stroke="#131722" stroke-width="1.1"><path d="M12.7 7.8L6.1 13.3L12.7 18.8Z"/><path d="M20.5 7.8L14.3 13.3L20.5 18.8Z"/></g></svg><div class="abs t" style="left:615.5px;top:10.5px;font-size:14.3px;line-height:14.3px;color:#131722;font-weight:normal;">回放</div><svg class="abs" style="left:660px;top:4px" width="20" height="22"><path d="M7.8 8.2L4.1 11.5L7.8 14.7M4.1 11.5H11.1A5.3 5.3 0 0 1 16.4 17.6" fill="none" stroke="#131722" stroke-width="1.1"/></svg><svg class="abs" style="left:688px;top:4px" width="20" height="22"><path d="M13.4 8.2L17 11.5L13.4 14.7M17 11.5H9.3A5.3 5.3 0 0 0 4.2 17.6" fill="none" stroke="#b2b5be" stroke-width="1.1"/></svg><svg class="abs" style="left:1236px;top:6px" width="24" height="24"><rect x="3.5" y="3.5" width="18.2" height="16.4" rx="2.2" fill="none" stroke="#131722" stroke-width="1.2"/></svg><svg class="abs" style="left:1272px;top:4px" width="30" height="24"><path d="M8.2 20.5A4.6 4.6 0 0 1 7.6 11.4A7.6 7.6 0 0 1 22.3 11.8A4.4 4.4 0 0 1 22.6 20.5Z" fill="none" stroke="#131722" stroke-width="1.1"/><path d="M10.7 13.9L13.7 16.5L19 10.8" fill="none" stroke="#131722" stroke-width="1.1"/></svg><div class="abs t" style="left:1303.5px;top:10.5px;font-size:14.3px;line-height:14.3px;color:#131722;font-weight:normal;">未命名</div><svg class="abs" style="left:1355px;top:12px" width="12" height="10"><path d="M2.1 2.8L6 6.7L9.9 2.8" fill="none" stroke="#131722" stroke-width="1.1"/></svg><svg class="abs" style="left:1381px;top:7px" width="20" height="20"><path d="M7.83 3.21 L8.33 0.73 L11.47 0.73 L11.97 3.21 L13.17 3.71 L15.27 2.31 L17.49 4.53 L16.09 6.63 L16.59 7.83 L19.07 8.33 L19.07 11.47 L16.59 11.97 L16.09 13.17 L17.49 15.27 L15.27 17.49 L13.17 16.09 L11.97 16.59 L11.47 19.07 L8.33 19.07 L7.83 16.59 L6.63 16.09 L4.53 17.49 L2.31 15.27 L3.71 13.17 L3.21 11.97 L0.73 11.47 L0.73 8.33 L3.21 7.83 L3.71 6.63 L2.31 4.53 L4.53 2.31 L6.63 3.71Z" fill="none" stroke="#131722" stroke-width="1.1" stroke-linejoin="round"/><circle cx="9.9" cy="9.9" r="2.6" fill="none" stroke="#131722" stroke-width="1.1"/></svg><svg class="abs" style="left:1420px;top:7px" width="20" height="20"><g fill="none" stroke="#131722" stroke-width="1.3"><path d="M2.5 6.8V2.5H6.8M2.5 2.5L7.8 7.6"/><path d="M17.5 6.8V2.5H13.2M17.5 2.5L12.2 7.6"/><path d="M2.5 13.2V17.5H6.8M2.5 17.5L7.8 12.4"/><path d="M17.5 13.2V17.5H13.2M17.5 17.5L12.2 12.4"/></g></svg><svg class="abs" style="left:1456px;top:6px" width="26" height="22"><path d="M4.2 4.2H8.5L9.5 2.4H16.3L17.3 4.2H21.5A1.3 1.3 0 0 1 22.8 5.5V17.7A1.3 1.3 0 0 1 21.5 19H3.5A1.3 1.3 0 0 1 2.2 17.7V5.5A1.3 1.3 0 0 1 3.5 4.2Z" fill="none" stroke="#131722" stroke-width="1.2" stroke-linejoin="round"/><circle cx="12.5" cy="11.4" r="4.2" fill="none" stroke="#131722" stroke-width="1.2"/></svg><div class="abs" style="left:1488px;top:0;width:62px;height:36px;background:#2196f3"></div><div class="abs t" style="left:1504px;top:11px;font-size:15px;line-height:15px;color:#ffffff;font-weight:normal;">发表</div><div class="abs" style="left:1550px;top:0;width:5px;height:805px;background:#e0e3eb"></div><div class="abs" style="left:1558px;top:1px;width:40px;height:34px;background:#f0f3fa"></div><div class="abs t" style="left:1569px;top:11.5px;font-size:13.2px;line-height:13.2px;color:#50535e;font-weight:bold;">外汇</div><div class="abs" style="left:1555px;top:37px;width:34px;height:2px;background:#f3f4f6"></div><div class="abs" style="left:1558px;top:280px;width:31px;height:1px;background:#e0e3eb"></div><div class="abs" style="left:1568px;top:290px;width:30px;height:24px;background:#7f9a5c;border-radius:3px"></div><div class="abs t" style="left:1573px;top:295px;font-size:15px;line-height:15px;color:#ffffff;font-weight:bold;">D</div><div class="abs" style="left:1558px;top:405px;width:40px;height:34px;border:1px solid #cdd0d8;border-radius:2px"></div><div class="abs t" style="left:1568px;top:415px;font-size:14px;line-height:14px;color:#a3a6af;font-weight:normal;">有什</div><div class="abs" style="left:1558px;top:442px;width:40px;height:34px;background:#f0f3fa"></div><div class="abs t" style="left:1568px;top:452px;font-size:14px;line-height:14px;color:#131722;font-weight:bold;">所有</div><div class="abs" style="left:1558px;top:530px;width:40px;height:1px;background:#e0e3eb"></div><div class="abs t" style="left:1568px;top:489px;font-size:14px;line-height:14px;color:#131722;font-weight:bold;">加密</div><div class="abs t" style="left:1568px;top:510px;font-size:12px;line-height:12px;color:#787b86;font-weight:normal;">max</div><div class="abs" style="left:1558px;top:530px;width:40px;height:50px;background:#ebf3fd"></div><div class="abs" style="left:1558px;top:530px;width:3px;height:50px;background:#2196f3"></div><div class="abs" style="left:1558px;top:580px;width:40px;height:1px;background:#e0e3eb"></div><div class="abs t" style="left:1568px;top:541px;font-size:14px;line-height:14px;color:#131722;font-weight:bold;">外汇</div><div class="abs t" style="left:1568px;top:562px;font-size:12px;line-height:12px;color:#787b86;font-weight:normal;">dahe</div><div class="abs" style="left:1558px;top:631px;width:40px;height:1px;background:#e0e3eb"></div><div class="abs t" style="left:1568px;top:592px;font-size:14px;line-height:14px;color:#131722;font-weight:bold;">股票</div><div class="abs t" style="left:1568px;top:613px;font-size:12px;line-height:12px;color:#787b86;font-weight:normal;">Time</div><div class="abs" style="left:1558px;top:677px;width:40px;height:1px;background:#e0e3eb"></div><div class="abs t" style="left:1568px;top:643px;font-size:14px;line-height:14px;color:#131722;font-weight:bold;">中国</div><div class="abs t" style="left:1568px;top:664px;font-size:12px;line-height:12px;color:#787b86;font-weight:normal;">wind</div><div class="abs" style="left:1558px;top:723px;width:40px;height:1px;background:#e0e3eb"></div><div class="abs t" style="left:1568px;top:688px;font-size:14px;line-height:14px;color:#131722;font-weight:bold;">指标</div><div class="abs t" style="left:1568px;top:709px;font-size:12px;line-height:12px;color:#787b86;font-weight:normal;">Mag</div><div class="abs" style="left:1558px;top:769px;width:40px;height:1px;background:#e0e3eb"></div><div class="abs t" style="left:1568px;top:734px;font-size:14px;line-height:14px;color:#131722;font-weight:bold;">现货</div><div class="abs t" style="left:1568px;top:755px;font-size:12px;line-height:12px;color:#787b86;font-weight:normal;">chin</div><div class="abs" style="left:1558px;top:815px;width:40px;height:1px;background:#e0e3eb"></div><div class="abs t" style="left:1568px;top:780px;font-size:14px;line-height:14px;color:#131722;font-weight:bold;">国内</div><div class="abs t" style="left:1568px;top:801px;font-size:12px;line-height:12px;color:#787b86;font-weight:normal;">YOU</div><div class="abs" style="left:260px;top:43px;width:540px;height:21px;background:rgba(255,255,255,0.55)"></div><div class="abs" style="left:4px;top:43px;width:256px;height:53px;background:rgba(255,255,255,0.55)"></div><div class="abs t" style="left:13px;top:46px;font-size:15px;line-height:15px;color:#131722;font-weight:normal;letter-spacing:0.5px">Bitcoin</div><div class="abs t" style="left:68.5px;top:46px;font-size:15px;line-height:15px;color:#131722;font-weight:normal;">/</div><div class="abs t" style="left:80.5px;top:46px;font-size:15px;line-height:15px;color:#131722;font-weight:normal;letter-spacing:0.7px">Tether</div><div class="abs t" style="left:139.5px;top:46px;font-size:15px;line-height:15px;color:#131722;font-weight:normal;">1h</div><div class="abs t" style="left:168.5px;top:46px;font-size:15px;line-height:15px;color:#131722;font-weight:normal;letter-spacing:-0.8px">BITTREX</div><div class="abs" style="left:132px;top:52.5px;width:2.2px;height:2.2px;border-radius:50%;background:#9598a1"></div><div class="abs" style="left:161px;top:52.5px;width:2.2px;height:2.2px;border-radius:50%;background:#9598a1"></div><svg class="abs" style="left:241px;top:44px" width="20" height="20"><circle cx="10" cy="9" r="8.5" fill="#e3f2ef"/><circle cx="10" cy="9" r="4" fill="#089981"/></svg><div class="abs t" style="left:276px;top:48.5px;font-size:12.5px;line-height:12.5px;color:#787b86;font-weight:normal;letter-spacing:-0.5px">开=</div><div class="abs t" style="left:297px;top:48.5px;font-size:12.5px;line-height:12.5px;color:#ef5350;font-weight:normal;letter-spacing:-0.1px">58307.40503</div><div class="abs t" style="left:376px;top:48.5px;font-size:12.5px;line-height:12.5px;color:#787b86;font-weight:normal;letter-spacing:-0.5px">高=</div><div class="abs t" style="left:396.5px;top:48.5px;font-size:12.5px;line-height:12.5px;color:#ef5350;font-weight:normal;letter-spacing:-0.1px">58394.06000</div><div class="abs t" style="left:476px;top:48.5px;font-size:12.5px;line-height:12.5px;color:#787b86;font-weight:normal;letter-spacing:-0.5px">低=</div><div class="abs t" style="left:496.8px;top:48.5px;font-size:12.5px;line-height:12.5px;color:#ef5350;font-weight:normal;letter-spacing:-0.1px">58060.81428</div><div class="abs t" style="left:576px;top:48.5px;font-size:12.5px;line-height:12.5px;color:#787b86;font-weight:normal;letter-spacing:-0.5px">收=</div><div class="abs t" style="left:596.3px;top:48.5px;font-size:12.5px;line-height:12.5px;color:#ef5350;font-weight:normal;letter-spacing:-0.1px">58145.52867</div><div class="abs t" style="left:676px;top:48.5px;font-size:12.5px;line-height:12.5px;color:#ef5350;font-weight:normal;letter-spacing:-0.1px">−153.85284</div><div class="abs t" style="left:745.8px;top:48.5px;font-size:12.5px;line-height:12.5px;color:#ef5350;font-weight:normal;letter-spacing:-0.1px">(−0.26%)</div><div class="abs" style="left:12px;top:69px;width:89px;height:24px;border:1px solid #ef5350;border-radius:4px"></div><div class="abs t" style="left:20px;top:75px;font-size:12.5px;line-height:12.5px;color:#ef5350;font-weight:normal;letter-spacing:-0.1px">58131.06534</div><div class="abs t" style="left:109.5px;top:75px;font-size:12px;line-height:12px;color:#50535e;font-weight:normal;letter-spacing:-0.35px">13.79014</div><div class="abs" style="left:165px;top:69px;width:89px;height:24px;border:1px solid #2196f3;border-radius:4px"></div><div class="abs t" style="left:173.5px;top:75px;font-size:12.5px;line-height:12.5px;color:#2196f3;font-weight:normal;letter-spacing:-0.1px">58144.85547</div><div class="abs" style="left:13px;top:99px;width:32px;height:21px;border:1px solid #e0e3eb;border-radius:3px;background:#fff"></div><svg class="abs" style="left:17px;top:104px" width="12" height="10"><path d="M2 3L5.5 6.5L9 3" fill="none" stroke="#131722" stroke-width="1.3"/></svg><div class="abs t" style="left:32px;top:103px;font-size:13px;line-height:13px;color:#131722;font-weight:normal;">2</div><div class="abs t" style="left:1472px;top:56px;font-size:11.5px;line-height:11.5px;color:#131722;font-weight:normal;">63000</div><div class="abs t" style="left:1472px;top:96px;font-size:11.5px;line-height:11.5px;color:#131722;font-weight:normal;">62000</div><div class="abs t" style="left:1472px;top:136px;font-size:11.5px;line-height:11.5px;color:#131722;font-weight:normal;">61000</div><div class="abs t" style="left:1472px;top:176px;font-size:11.5px;line-height:11.5px;color:#131722;font-weight:normal;">60000</div><div class="abs t" style="left:1472px;top:216px;font-size:11.5px;line-height:11.5px;color:#131722;font-weight:normal;">59000</div><div class="abs t" style="left:1472px;top:256px;font-size:11.5px;line-height:11.5px;color:#131722;font-weight:normal;">58000</div><div class="abs t" style="left:1472px;top:296px;font-size:11.5px;line-height:11.5px;color:#131722;font-weight:normal;">57000</div><div class="abs t" style="left:1472px;top:336px;font-size:11.5px;line-height:11.5px;color:#131722;font-weight:normal;">56000</div><div class="abs t" style="left:1472px;top:376px;font-size:11.5px;line-height:11.5px;color:#131722;font-weight:normal;">55000</div><div class="abs t" style="left:1472px;top:416px;font-size:11.5px;line-height:11.5px;color:#131722;font-weight:normal;">54000</div><div class="abs t" style="left:1472px;top:456px;font-size:11.5px;line-height:11.5px;color:#131722;font-weight:normal;">53000</div><div class="abs t" style="left:1472px;top:496px;font-size:11.5px;line-height:11.5px;color:#131722;font-weight:normal;">52000</div><div class="abs t" style="left:1472px;top:536px;font-size:11.5px;line-height:11.5px;color:#131722;font-weight:normal;">51000</div><div class="abs t" style="left:1472px;top:576px;font-size:11.5px;line-height:11.5px;color:#131722;font-weight:normal;">50000</div><div class="abs t" style="left:1472px;top:616px;font-size:11.5px;line-height:11.5px;color:#131722;font-weight:normal;">49000</div><div class="abs t" style="left:1472px;top:656px;font-size:11.5px;line-height:11.5px;color:#131722;font-weight:normal;">48000</div><div class="abs t" style="left:1472px;top:696px;font-size:11.5px;line-height:11.5px;color:#131722;font-weight:normal;">47000</div><div class="abs t" style="left:1472px;top:736px;font-size:11.5px;line-height:11.5px;color:#131722;font-weight:normal;">46000</div><div class="abs" style="left:1489px;top:43px;width:35px;height:21px;border:1px solid #e0e3eb;border-radius:4px;background:#fff"></div><div class="abs t" style="left:1493.5px;top:47.5px;font-size:11.5px;line-height:11.5px;color:#131722;font-weight:normal;letter-spacing:-0.4px">USDT</div><div class="abs" style="left:1463px;top:249px;width:83px;height:30px;background:#ef5350;border-radius:0 3px 3px 0"></div><div class="abs t" style="left:1472px;top:251px;font-size:12px;line-height:12px;color:#ffffff;font-weight:normal;letter-spacing:-0.45px">58145.52867</div><div class="abs t" style="left:1472px;top:265px;font-size:12px;line-height:12px;color:#ffffff;font-weight:normal;letter-spacing:-0.2px">21:22</div><div class="abs" style="left:1463px;top:280px;width:83px;height:16px;background:#ff9800;border-radius:0 3px 3px 0"></div><div class="abs t" style="left:1472px;top:282px;font-size:12px;line-height:12px;color:#131722;font-weight:normal;letter-spacing:-0.45px">57681.95774</div><div class="abs" style="left:1463px;top:309px;width:83px;height:16px;background:#f44336;border-radius:0 3px 3px 0"></div><div class="abs t" style="left:1472px;top:311px;font-size:12px;line-height:12px;color:#ffffff;font-weight:normal;letter-spacing:-0.45px">56628.13165</div><div class="abs" style="left:1463px;top:327px;width:83px;height:16px;background:#009688;border-radius:0 3px 3px 0"></div><div class="abs t" style="left:1472px;top:329px;font-size:12px;line-height:12px;color:#ffffff;font-weight:normal;letter-spacing:-0.45px">56188.79006</div><div class="abs" style="left:1463px;top:257px;width:4px;height:1px;background:#ffffff"></div><div class="abs" style="left:1463px;top:288px;width:4px;height:1px;background:#131722"></div><div class="abs" style="left:1463px;top:317px;width:4px;height:1px;background:#ffffff"></div><div class="abs" style="left:1463px;top:335px;width:4px;height:1px;background:#ffffff"></div><div class="abs t" style="left:65px;top:779px;width:60px;text-align:center;font-size:12px;line-height:12px;color:#131722;font-weight:normal">8</div><div class="abs t" style="left:146px;top:779px;width:60px;text-align:center;font-size:12px;line-height:12px;color:#131722;font-weight:normal">10</div><div class="abs t" style="left:227px;top:779px;width:60px;text-align:center;font-size:12px;line-height:12px;color:#131722;font-weight:normal">12</div><div class="abs t" style="left:349px;top:779px;width:60px;text-align:center;font-size:12px;line-height:12px;color:#131722;font-weight:normal">15</div><div class="abs t" style="left:430px;top:779px;width:60px;text-align:center;font-size:12px;line-height:12px;color:#131722;font-weight:normal">17</div><div class="abs t" style="left:511px;top:779px;width:60px;text-align:center;font-size:12px;line-height:12px;color:#131722;font-weight:normal">19</div><div class="abs t" style="left:633px;top:779px;width:60px;text-align:center;font-size:12px;line-height:12px;color:#131722;font-weight:normal">22</div><div class="abs t" style="left:714px;top:779px;width:60px;text-align:center;font-size:12px;line-height:12px;color:#131722;font-weight:normal">24</div><div class="abs t" style="left:795px;top:779px;width:60px;text-align:center;font-size:12px;line-height:12px;color:#131722;font-weight:normal">26</div><div class="abs t" style="left:917px;top:779px;width:60px;text-align:center;font-size:12px;line-height:12px;color:#131722;font-weight:normal">29</div><div class="abs t" style="left:1039px;top:779px;width:60px;text-align:center;font-size:12px;line-height:12px;color:#131722;font-weight:bold">4月</div><div class="abs t" style="left:1120px;top:779px;width:60px;text-align:center;font-size:12px;line-height:12px;color:#131722;font-weight:normal">3</div><div class="abs t" style="left:1201px;top:779px;width:60px;text-align:center;font-size:12px;line-height:12px;color:#131722;font-weight:normal">5</div><div class="abs t" style="left:1282px;top:779px;width:60px;text-align:center;font-size:12px;line-height:12px;color:#131722;font-weight:normal">7</div><div class="abs t" style="left:1363px;top:779px;width:60px;text-align:center;font-size:12px;line-height:12px;color:#131722;font-weight:normal">9</div><svg class="abs" style="left:10px;top:731px" width="36" height="36"><circle cx="17.4" cy="16.9" r="16.3" fill="#fff" stroke="#e3e3e3" stroke-width="1"/><g fill="#2f9ee8"><circle cx="15.6" cy="14.4" r="4.6"/><circle cx="23.4" cy="17.6" r="4.6"/><rect x="6.9" y="14.8" width="8" height="8" rx="2"/><rect x="6.9" y="17.5" width="21.1" height="5.3" rx="1.6"/><rect x="15" y="13" width="6" height="6"/></g><path d="M7.2 21.4L14.9 14.6L19.9 19.9L27.5 12.2" fill="none" stroke="#fff" stroke-width="1.3"/><circle cx="14.9" cy="14.6" r="1.6" fill="#fff"/><circle cx="19.9" cy="19.9" r="1.6" fill="#fff"/></svg><svg class="abs" style="left:1498px;top:777px" width="18" height="18"><circle cx="9" cy="9" r="5" fill="none" stroke="#131722" stroke-width="1.2"/><path d="M9 1V4M9 14V17M1 9H4M14 9H17M3.3 3.3L5.4 5.4M12.6 12.6L14.7 14.7M3.3 14.7L5.4 12.6M12.6 5.4L14.7 3.3" stroke="#131722" stroke-width="1.2"/></svg>
</body></html>
